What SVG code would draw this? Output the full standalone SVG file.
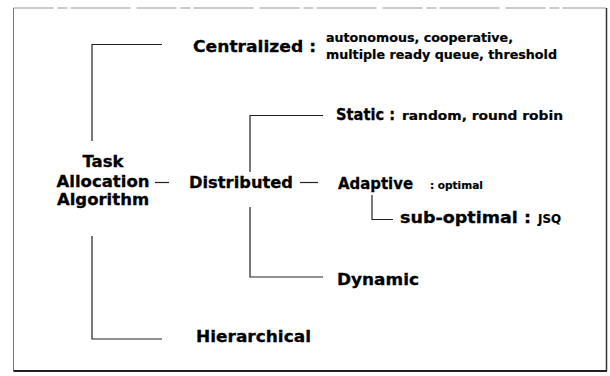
<svg xmlns="http://www.w3.org/2000/svg" width="610" height="376" viewBox="0 0 610 376">
<style>
.t{font-family:"DejaVu Sans","Liberation Sans",Arial,sans-serif;font-weight:bold;fill:#000;stroke:#000;stroke-width:0.3}
.m{font-size:16.5px}
.s{font-size:12px;stroke-width:0.2}
.x{font-size:10.5px;stroke-width:0.2}
.c{fill:none;stroke:#222;stroke-width:1.2}
</style>
<rect width="610" height="376" fill="#fff"/>
<g id="frame">
<path d="M13.5,8 H606" stroke="#999" stroke-width="1" stroke-dasharray="40,4,10,3,60,6" fill="none"/>
<path d="M13.5,8 V371" stroke="#777" stroke-width="1" fill="none"/>
<path d="M606.5,8 V371" stroke="#333" stroke-width="1.5" fill="none"/>
<path d="M13.5,371 H607" stroke="#222" stroke-width="2" fill="none"/>
</g>
<g id="connectors">
<path class="c" d="M162,44.5 H92 V141"/>
<path class="c" d="M92,236 V339 H162"/>
<path class="c" d="M155,182.5 H169"/>
<path class="c" d="M300,182.5 H318"/>
<path class="c" d="M323,115.5 H250 V172"/>
<path class="c" d="M250,207 V277 H323"/>
<path class="c" d="M372,195 V219.5 H393"/>
</g>
<g id="root">
<text class="t m" x="103" y="167" text-anchor="middle">Task</text>
<text class="t m" x="103" y="187" text-anchor="middle">Allocation</text>
<text class="t m" x="103" y="205" text-anchor="middle">Algorithm</text>
</g>
<g id="centralized">
<text class="t m" x="193" y="51.5" textLength="123" lengthAdjust="spacingAndGlyphs">Centralized :</text>
<text class="t s" x="326" y="42" textLength="187" lengthAdjust="spacingAndGlyphs">autonomous,  cooperative,</text>
<text class="t s" x="326" y="59" textLength="231" lengthAdjust="spacingAndGlyphs">multiple ready queue,  threshold</text>
</g>
<g id="distributed">
<text class="t m" x="189" y="187.5" textLength="104" lengthAdjust="spacingAndGlyphs">Distributed</text>
</g>
<g id="static">
<text class="t m" x="336" y="119.5" textLength="59" lengthAdjust="spacingAndGlyphs">Static :</text>
<text class="t s" x="402" y="120" textLength="161" lengthAdjust="spacingAndGlyphs">random,  round robin</text>
</g>
<g id="adaptive">
<text class="t m" x="338" y="189" textLength="75" lengthAdjust="spacingAndGlyphs">Adaptive</text>
<text class="t x" x="430" y="189">: optimal</text>
</g>
<g id="suboptimal">
<text class="t m" x="400" y="223" textLength="131" lengthAdjust="spacingAndGlyphs">sub-optimal :</text>
<text class="t s" x="538" y="223" textLength="23" lengthAdjust="spacingAndGlyphs">JSQ</text>
</g>
<g id="dynamic">
<text class="t m" x="337" y="285" textLength="82" lengthAdjust="spacingAndGlyphs">Dynamic</text>
</g>
<g id="hierarchical">
<text class="t m" x="196" y="342" textLength="115" lengthAdjust="spacingAndGlyphs">Hierarchical</text>
</g>
</svg>
